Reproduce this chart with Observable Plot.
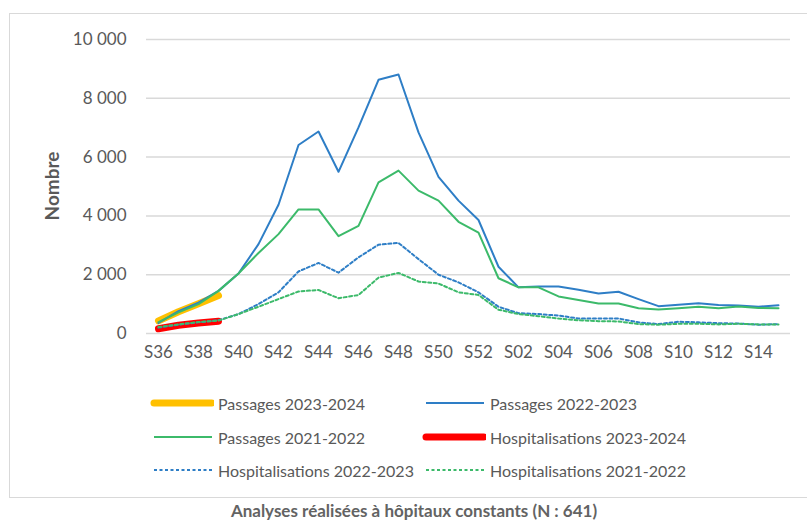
<!DOCTYPE html>
<html>
<head>
<meta charset="utf-8">
<script src="https://cdn.jsdelivr.net/npm/d3@7"></script>
<script src="https://cdn.jsdelivr.net/npm/@observablehq/plot@0.6"></script>
<style>
  html, body { margin: 0; padding: 0; background: #fff; }
  #wrap { position: relative; width: 807px; height: 520px; overflow: hidden; font-family: Lato, "Open Sans", sans-serif; }
  #frame { position: absolute; left: 9px; top: 13px; width: 820px; height: 485px; border: 1.5px solid #d9d9d9; box-sizing: border-box; }
  #chart { position: absolute; left: 0; top: 0; }
  #ylab { position: absolute; left: 51px; top: 186px; transform: translate(-50%, -50%) rotate(-90deg); font-weight: bold; font-size: 19px; color: #595959; white-space: nowrap; }
  .leg { position: absolute; display: flex; align-items: center; font-size: 16px; color: #595959; white-space: nowrap; }
  .leg svg { margin-right: 4px; }
  #caption { position: absolute; left: 0; width: 828px; top: 500px; text-align: center; font-size: 17px; font-weight: bold; color: #636363; }
</style>
</head>
<body>
<div id="wrap">
  <div id="frame"></div>
  <div id="chart"></div>
  <div id="ylab">Nombre</div>
  <div id="legend"></div>
  <div id="caption">Analyses réalisées à hôpitaux constants (N : 641)</div>
</div>
<script>
// Weeks (S36 .. S52, S01 .. S15)
const weeks = ["S36","S37","S38","S39","S40","S41","S42","S43","S44","S45","S46","S47","S48","S49","S50","S51","S52",
               "S01","S02","S03","S04","S05","S06","S07","S08","S09","S10","S11","S12","S13","S14","S15"];
const xTickLabels = ["S36","S38","S40","S42","S44","S46","S48","S50","S52","S02","S04","S06","S08","S10","S12","S14"];
const yTicks = [0, 2000, 4000, 6000, 8000, 10000];

// Series values
const passages2324 = [430, 740, 1010, 1290];
const hospit2324   = [160, 280, 360, 420];
const passages2223 = [360, 760, 1050, 1450, 2040, 3040, 4380, 6410, 6870, 5500, 7010, 8630, 8810, 6840, 5330, 4520, 3860,
                      2270, 1570, 1600, 1600, 1490, 1360, 1420, 1170, 930, 980, 1030, 970, 950, 910, 960];
const passages2122 = [390, 720, 1000, 1450, 2040, 2740, 3380, 4220, 4220, 3310, 3660, 5140, 5540, 4860, 4520, 3800, 3430,
                      1880, 1570, 1570, 1260, 1140, 1020, 1020, 860, 820, 860, 910, 860, 920, 870, 860];
const hospit2223   = [200, 300, 380, 450, 660, 1000, 1400, 2110, 2400, 2070, 2590, 3020, 3080, 2530, 2000, 1740, 1400,
                      910, 690, 660, 610, 510, 510, 510, 380, 320, 400, 380, 350, 340, 300, 320];
const hospit2122   = [220, 310, 390, 440, 660, 910, 1170, 1430, 1480, 1200, 1310, 1900, 2060, 1770, 1700, 1400, 1310,
                      810, 660, 590, 510, 450, 420, 410, 320, 300, 330, 330, 310, 330, 310, 310];

const seriesNames = ["Passages 2023-2024","Passages 2022-2023","Passages 2021-2022","Hospitalisations 2023-2024","Hospitalisations 2022-2023","Hospitalisations 2021-2022"];
const seriesValues = [passages2324, passages2223, passages2122, hospit2324, hospit2223, hospit2122];
const seriesColors = ["#FFC000","#2E7EC6","#3CBA6A","#FF0000","#2E7EC6","#3CBA6A"];
const seriesWidths = [7, 2, 2, 7, 2, 2];
const seriesDash = [null, null, null, null, "3,2.5", "3,2.5"];

const toRows = (vals, name) => vals.map((v, i) => ({week: weeks[i], value: v, series: name}));
const tables = seriesValues.map((v, i) => toRows(v, seriesNames[i]));

const fmt = d => d3.format(",")(d).replace(/,/g, " ");

// draw order: thick current-season lines first, others on top
const order = [0, 3, 1, 2, 4, 5];
const lineMarks = order.map(i => Plot.line(tables[i], {
  x: "week", y: "value",
  stroke: seriesColors[i], strokeWidth: seriesWidths[i],
  strokeDasharray: seriesDash[i] || undefined,
  strokeLinecap: "round", strokeLinejoin: "round"
}));

const chart = Plot.plot({
  width: 807, height: 370,
  marginLeft: 146, marginRight: 17, marginTop: 39, marginBottom: 37,
  style: {fontFamily: "Lato, 'Open Sans', sans-serif", fontSize: "17px", color: "#595959", background: "transparent", overflow: "visible"},
  x: {type: "point", domain: weeks, padding: 0.5},
  y: {domain: [0, 10000]},
  marks: [
    Plot.gridY(yTicks, {stroke: "#d9d9d9", strokeOpacity: 1, strokeWidth: 1.5}),
    Plot.axisY(yTicks, {tickSize: 0, tickPadding: 20, tickFormat: fmt, label: null, fill: "#595959"}),
    Plot.axisX(xTickLabels, {tickSize: 0, tickPadding: 12, label: null, fill: "#595959"}),
    ...lineMarks
  ]
});
document.getElementById("chart").appendChild(chart);

// Legend (HTML)
const legendPos = [
  {x: 150, y: 403}, {x: 422, y: 403},
  {x: 150, y: 437}, {x: 422, y: 437},
  {x: 150, y: 470}, {x: 422, y: 470}
];
const legendOrder = [0, 1, 2, 3, 4, 5];
const legend = document.getElementById("legend");
legendOrder.forEach((si, k) => {
  const p = legendPos[k];
  const div = document.createElement("div");
  div.className = "leg";
  div.style.left = p.x + "px";
  div.style.top = (p.y - 11) + "px";
  div.style.height = "22px";
  const w = seriesWidths[si];
  const dash = seriesDash[si] ? `stroke-dasharray="${seriesDash[si]}"` : "";
  const inset = w > 3 ? 4 : 4;
  div.innerHTML = `<svg width="64" height="12"><line x1="${inset}" x2="${62}" y1="6" y2="6" stroke="${seriesColors[si]}" stroke-width="${w}" stroke-linecap="${w > 3 ? "round" : "butt"}" ${dash}/></svg><span>${seriesNames[si]}</span>`;
  legend.appendChild(div);
});
</script>
</body>
</html>
